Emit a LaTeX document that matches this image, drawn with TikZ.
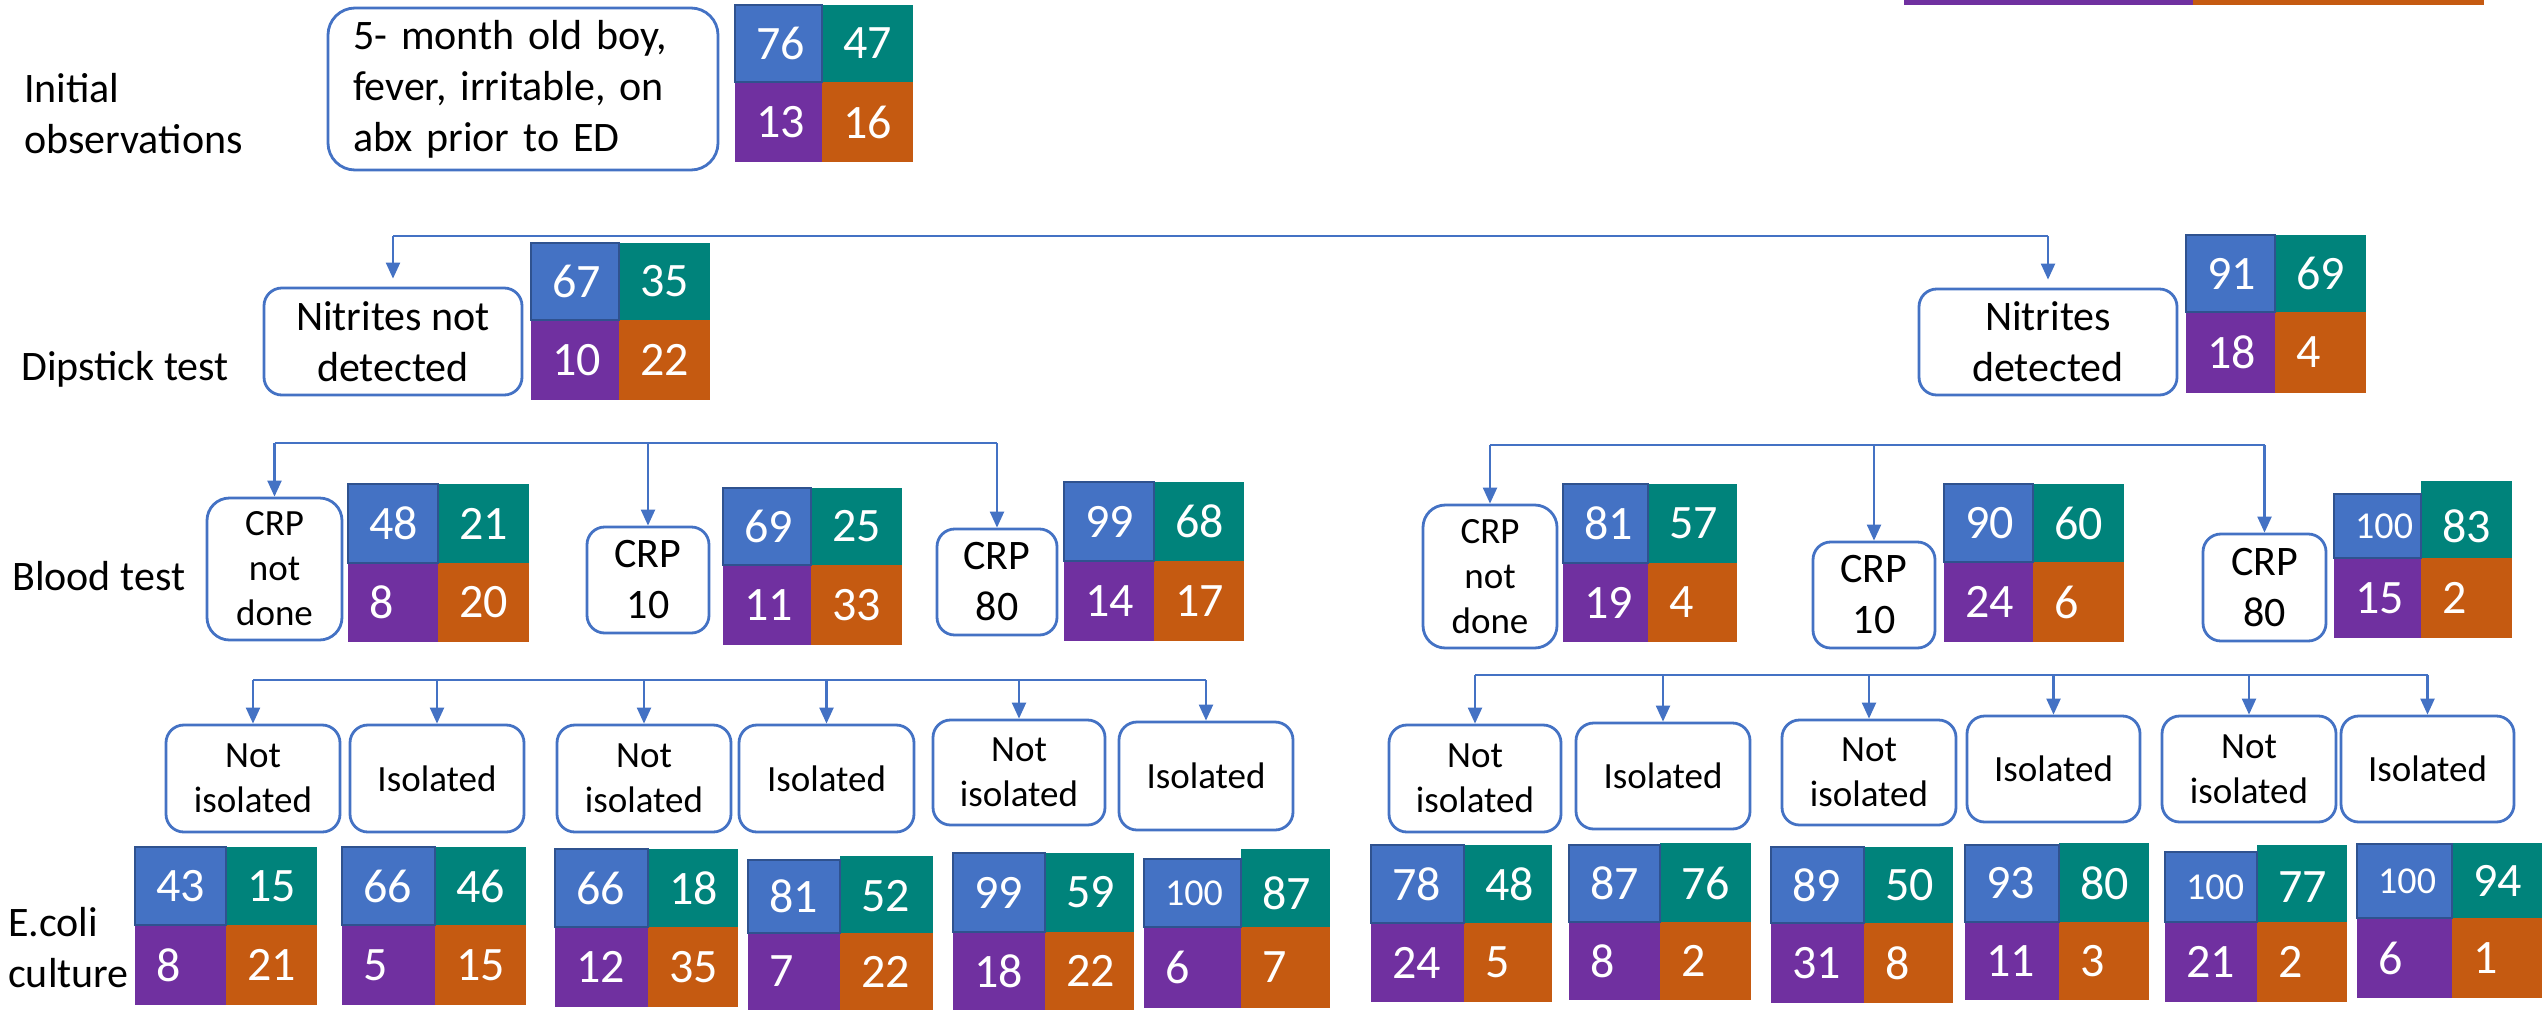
\documentclass[tikz,border=0pt]{standalone}
\usepackage{fontspec}
\setmainfont{Carlito}
\usetikzlibrary{arrows.meta}

\definecolor{cellblue}{HTML}{4472C4}
\definecolor{cellteal}{HTML}{00837B}
\definecolor{cellpurple}{HTML}{7030A0}
\definecolor{cellorange}{HTML}{C55A11}
\definecolor{bluerim}{HTML}{2F528F}
\definecolor{linkblue}{HTML}{4472C4}

\tikzset{
	stepbox/.style={draw=linkblue, line width=2.8pt, fill=white, align=center, inner sep=0pt, font=\fontsize{42}{51}\selectfont},
	small/.style={font=\fontsize{37}{45}\selectfont},
	wide/.style={text width=340pt, align=left, inner xsep=25pt},
	branch/.style={draw=linkblue, line width=2.2pt},
	arr/.style={branch, -{Triangle[length=16pt, width=14pt]}},
	num/.style={anchor=west, inner sep=0pt, text=white, font=\fontsize{48}{48}\selectfont},
	rowlabel/.style={anchor=west, inner sep=0pt, font=\fontsize{42}{51}\selectfont}
}

\newcommand{\hund}{{\fontsize{38}{38}\selectfont 100}}

\def\stepnode[#1](#2)(#3,#4)(#5,#6)#7{%
	\pgfmathsetmacro{\boxw}{#5-#3}%
	\pgfmathsetmacro{\boxh}{#6-#4}%
	\pgfmathsetmacro{\boxr}{min(\boxw,\boxh)/6}%
	\node[stepbox, #1, minimum width=\boxw pt, minimum height=\boxh pt, rounded corners=\boxr pt] (#2) at ({(#3+#5)/2},{(#4+#6)/2}) {#7}}

\def\tallynums(#1)(#2,#3)(#4,#5)#6/#7/#8/#9\relax{%
	\node[num] (#1-a) at (#2+21,{#4}) {#6};
	\node[num] (#1-b) at (#3+21,{#4}) {#7};
	\node[num] (#1-c) at (#2+21,{#5}) {#8};
	\node[num] (#1-d) at (#3+21,{#5}) {#9};}

\def\tally[#1](#2)(#3,#4,#5)(#6,#7,#8)#9{%
	\fill[cellteal] (#4,#6) rectangle (#5,#7);
	\fill[cellorange] (#4,#7) rectangle (#5,#8);
	\fill[cellpurple] (#3,#7) rectangle (#4,#8);
	\filldraw[fill=cellblue, draw=bluerim, line width=1.5pt] (#3,#6+#1) rectangle (#4,#7);
	\tallynums(#2)(#3,#4)({(#6+#1+#7)/2},{(#7+#8)/2})#9\relax}

\begin{document}
\begin{tikzpicture}[x=1pt, y=-1pt]
		%%%%% START %%%%%
		\useasboundingbox (0,0) rectangle (2542,1010);
		
		\fill[cellpurple] (1904,0) rectangle (2193,5);
		\fill[cellorange] (2193,0) rectangle (2484,5);
		
		\node[rowlabel, align=left] (lblInit) at (24,114) {Initial\\observations};
		\node[rowlabel, anchor=base west] (lblDip) at (21,380) {Dipstick test};
		\node[rowlabel, anchor=base west] (lblBlood) at (12,590) {Blood test};
		\node[rowlabel, align=left] (lblCult) at (8,948) {E.coli\\culture};
		
		\stepnode[wide](init)(328,8)(718,170){5- month old boy,\\fever, irritable, on\\abx prior to ED};
		\tally[0](t0)(735,822,913)(5,82,162){76/47/13/16}
		
		\stepnode[](nnd)(264,288)(522,395){Nitrites not\\detected};
		\stepnode[](nd)(1919,289)(2177,395){Nitrites\\detected};
		\tally[0](t1)(531,619,710)(243,320,400){67/35/10/22}
		\tally[0](t2)(2186,2275,2366)(235,312,393){91/69/18/4}
		
		\stepnode[small](crpA)(207,498)(342,640){CRP\\not\\done};
		\stepnode[](crpB)(587,527)(709,633){CRP\\10};
		\stepnode[](crpC)(937,529)(1057,635){CRP\\80};
		\stepnode[small](crpD)(1423,505)(1557,648){CRP\\not\\done};
		\stepnode[](crpE)(1813,542)(1935,648){CRP\\10};
		\stepnode[](crpF)(2203,534)(2326,641){CRP\\80};
		
		\tally[0](b1)(348,438,529)(484,563,642){48/21/8/20}
		\tally[0](b2)(723,811,902)(488,565,645){69/25/11/33}
		\tally[0](b3)(1064,1154,1244)(482,561,641){99/68/14/17}
		\tally[0](b4)(1563,1648,1737)(484,563,642){81/57/19/4}
		\tally[0](b5)(1944,2033,2124)(484,562,642){90/60/24/6}
		\tally[13](b6)(2334,2421,2512)(481,558,638){\hund/83/15/2}
		
		\stepnode[small](isoA1)(166,725)(340,832){Not\\isolated};
		\stepnode[small](isoA2)(350,725)(524,832){Isolated};
		\stepnode[small](isoB1)(557,725)(731,832){Not\\isolated};
		\stepnode[small](isoB2)(739,725)(914,832){Isolated};
		\stepnode[small](isoC1)(933,720)(1105,825){Not\\isolated};
		\stepnode[small](isoC2)(1119,722)(1293,830){Isolated};
		\stepnode[small](isoD1)(1389,725)(1561,832){Not\\isolated};
		\stepnode[small](isoD2)(1576,723)(1750,829){Isolated};
		\stepnode[small](isoE1)(1782,720)(1956,825){Not\\isolated};
		\stepnode[small](isoE2)(1967,716)(2140,822){Isolated};
		\stepnode[small](isoF1)(2162,716)(2336,822){Not\\isolated};
		\stepnode[small](isoF2)(2341,716)(2514,822){Isolated};
		
		\tally[0](c1)(135,226,317)(847,925,1005){43/15/8/21}
		\tally[0](c2)(342,435,526)(847,925,1005){66/46/5/15}
		\tally[0](c3)(555,648,738)(849,927,1007){66/18/12/35}
		\tally[4](c4)(748,840,933)(856,933,1010){81/52/7/22}
		\tally[0](c5)(953,1045,1134)(853,932,1010){99/59/18/22}
		\tally[10](c6)(1144,1241,1330)(849,927,1008){\hund/87/6/7}
		\tally[0](d1)(1371,1464,1552)(845,923,1002){78/48/24/5}
		\tally[2](d2)(1569,1660,1751)(843,922,1000){87/76/8/2}
		\tally[0](d3)(1771,1864,1953)(847,923,1003){89/50/31/8}
		\tally[2](d4)(1965,2059,2149)(843,922,1000){93/80/11/3}
		\tally[7](d5)(2165,2257,2347)(845,922,1002){\hund/77/21/2}
		\tally[1](d6)(2357,2452,2542)(843,918,998){\hund/94/6/1}
		
		\coordinate (bar1) at (0,236);
		\coordinate (bar2l) at (0,443);
		\coordinate (bar2r) at (0,445);
		\coordinate (bar3l) at (0,680);
		\coordinate (bar3r) at (0,675);
		
		\draw[branch] (nnd |- bar1) -- (nd |- bar1);
		\draw[arr, shorten >=8pt] (nnd |- bar1) -- (nnd.north);
		\draw[arr, shorten >=8pt] (nd |- bar1) -- (nd.north);
		
		\draw[branch] (crpA |- bar2l) -- (crpC |- bar2l);
		\draw[arr] (crpA |- bar2l) -- (crpA.north);
		\draw[arr] (crpB |- bar2l) -- (crpB.north);
		\draw[arr] (crpC |- bar2l) -- (crpC.north);
		
		\draw[branch] (crpD |- bar2r) -- (crpF |- bar2r);
		\draw[arr] (crpD |- bar2r) -- (crpD.north);
		\draw[arr] (crpE |- bar2r) -- (crpE.north);
		\draw[arr] (crpF |- bar2r) -- (crpF.north);
		
		\draw[branch] (isoA1 |- bar3l) -- (isoC2 |- bar3l);
		\draw[arr] (isoA1 |- bar3l) -- (isoA1.north);
		\draw[arr] (isoA2 |- bar3l) -- (isoA2.north);
		\draw[arr] (isoB1 |- bar3l) -- (isoB1.north);
		\draw[arr] (isoB2 |- bar3l) -- (isoB2.north);
		\draw[arr] (isoC1 |- bar3l) -- (isoC1.north);
		\draw[arr] (isoC2 |- bar3l) -- (isoC2.north);
		
		\draw[branch] (isoD1 |- bar3r) -- (isoF2 |- bar3r);
		\draw[arr] (isoD1 |- bar3r) -- (isoD1.north);
		\draw[arr] (isoD2 |- bar3r) -- (isoD2.north);
		\draw[arr] (isoE1 |- bar3r) -- (isoE1.north);
		\draw[arr] (isoE2 |- bar3r) -- (isoE2.north);
		\draw[arr] (isoF1 |- bar3r) -- (isoF1.north);
		\draw[arr] (isoF2 |- bar3r) -- (isoF2.north);
		
		%%%%% END %%%%%
\end{tikzpicture}
\end{document}
